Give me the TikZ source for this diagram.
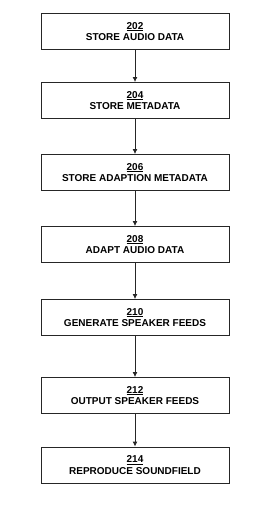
\documentclass[tikz,border=0pt]{standalone}
\usepackage{fontspec}
\setmainfont{Liberation Sans}
\usetikzlibrary{arrows.meta}
\begin{document}
\begin{tikzpicture}[x=1pt,y=-1pt,
  stepbox/.style={draw=black!85,line width=0.9pt,minimum width=188pt,minimum height=36pt,inner sep=0pt,align=center,font=\bfseries\fontsize{10}{11.5}\selectfont},
  flow/.style={draw=black!85,line width=0.9pt,-{Latex[length=5pt,width=5pt]}}]
\useasboundingbox (0,0) rectangle (277,511);
\node[stepbox] (a) at (135,31.5) {\underline{202}\\STORE AUDIO DATA};
\node[stepbox] (b) at (135,100.5) {\underline{204}\\STORE METADATA};
\node[stepbox] (c) at (135,172.5) {\underline{206}\\STORE ADAPTION METADATA};
\node[stepbox] (d) at (135,244.5) {\underline{208}\\ADAPT AUDIO DATA};
\node[stepbox] (e) at (135,317.5) {\underline{210}\\GENERATE SPEAKER FEEDS};
\node[stepbox] (f) at (135,395.5) {\underline{212}\\OUTPUT SPEAKER FEEDS};
\node[stepbox] (g) at (135,465) {\underline{214}\\REPRODUCE SOUNDFIELD};
\draw[flow] (a.south) -- (b.north);
\draw[flow] (b.south) -- (c.north);
\draw[flow] (c.south) -- (d.north);
\draw[flow] (d.south) -- (e.north);
\draw[flow] (e.south) -- (f.north);
\draw[flow] (f.south) -- (g.north);
\end{tikzpicture}
\end{document}
